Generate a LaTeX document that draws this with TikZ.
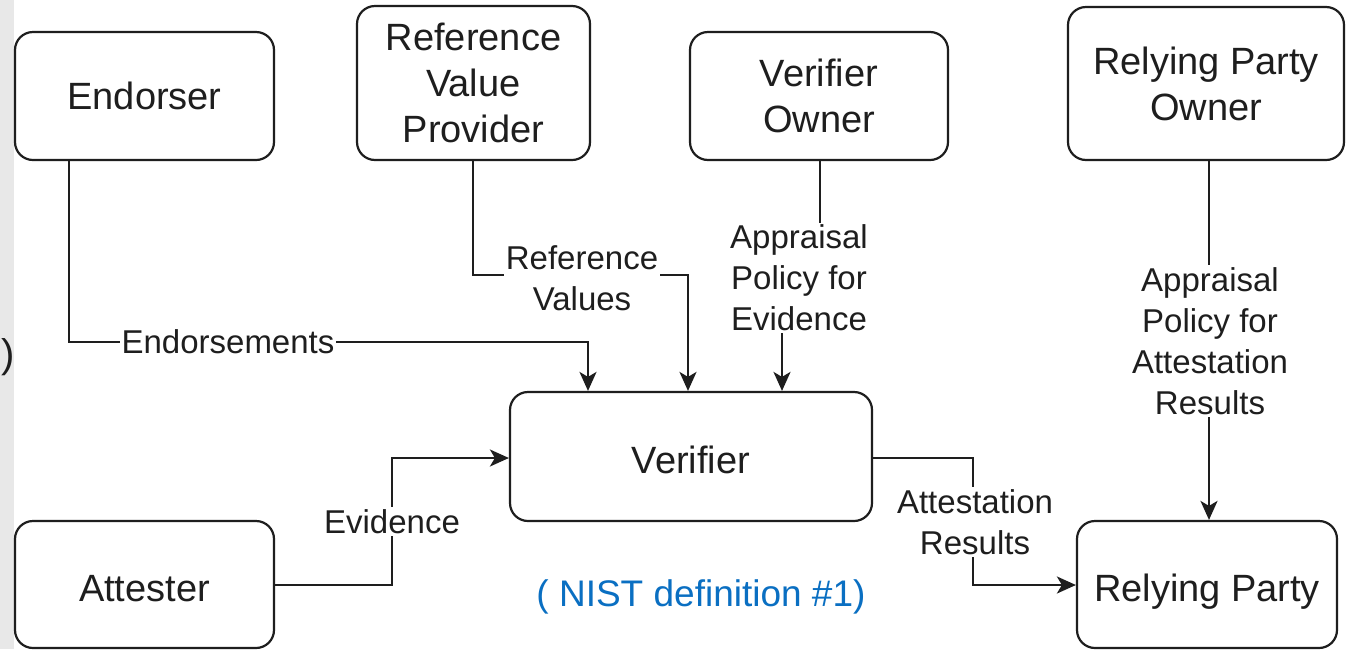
\documentclass[tikz,border=0pt]{standalone}
\usepackage{fontspec}
\setmainfont{Liberation Sans}
\usetikzlibrary{arrows.meta}
\definecolor{nistblue}{HTML}{0A6FC2}
\definecolor{ink}{HTML}{1E1E1E}
\tikzset{
  box/.style={draw=ink, line width=2.2pt, rounded corners=18pt, fill=white, align=center,
              font=\fontsize{38}{46}\selectfont, inner sep=0pt, text=ink},
  lowtext/.style={text height=34pt, text depth=0pt},
  lbl/.style={fill=white, align=center, inner sep=2pt, font=\fontsize{33}{41}\selectfont, text=ink},
  conn/.style={draw=ink, line width=2.2pt},
  arr/.style={conn, -{Stealth[length=19pt,width=17pt,inset=5pt]}},
}
\begin{document}
\begin{tikzpicture}[x=1pt,y=-1pt]
\useasboundingbox (0,0) rectangle (1346,649);
\fill[white] (0,0) rectangle (1346,649);
\fill[black!9] (0,0) rectangle (14,649);
\node[font=\fontsize{40}{46}\selectfont, inner sep=0pt, text=ink] (paren) at (8,357) {)};

% boxes
\node[box, minimum width=259pt, minimum height=128pt] (endorser) at (144.5,96) {Endorser};
\node[box, minimum width=233pt, minimum height=154pt] (rvp) at (473.5,83) {Reference\\Value\\Provider};
\node[box, minimum width=258pt, minimum height=128pt] (vo) at (819,96) {Verifier\\Owner};
\node[box, minimum width=276pt, minimum height=153pt] (rpo) at (1206,83.5) {Relying Party\\Owner};
\node[box, lowtext, minimum width=362pt, minimum height=129pt] (verifier) at (691,456.5) {Verifier};
\node[box, lowtext, minimum width=259pt, minimum height=127pt] (attester) at (144.5,584.5) {Attester};
\node[box, lowtext, minimum width=260pt, minimum height=127pt] (rp) at (1207,584.5) {Relying Party};

% bend points
\coordinate (b1) at (69,342);
\coordinate (b2) at (588,342);
\coordinate (b3) at (473,275);
\coordinate (b4) at (688,275);
\coordinate (b5) at (820,277);
\coordinate (b6) at (782,277);
\coordinate (b7) at (1209,300);
\coordinate (b8) at (392,585);
\coordinate (b9) at (392,458);
\coordinate (b10) at (973,458);
\coordinate (b11) at (973,585);

% connectors
\draw[arr] (endorser.south -| b1) -- (b1) -- (b2) -- (verifier.north -| b2);
\draw[arr] (rvp.south -| b3) -- (b3) -- (b4) -- (verifier.north -| b4);
\draw[arr] (vo.south -| b5) -- (b5) -- (b6) -- (verifier.north -| b6);
\draw[arr] (rpo.south -| b7) -- (rp.north -| b7);
\draw[arr] (attester.east |- b8) -- (b8) -- (b9) -- (verifier.west |- b9);
\draw[arr] (verifier.east |- b10) -- (b10) -- (b11) -- (rp.west |- b11);

% labels
\node[lbl] (lend) at (228,342) {Endorsements};
\node[lbl] (lrv) at (582,278) {Reference\\Values};
\node[lbl] (lape) at (799,278) {Appraisal\\Policy for\\Evidence};
\node[lbl] (lapr) at (1210,341) {Appraisal\\Policy for\\Attestation\\Results};
\node[lbl] (lev) at (392,521.5) {Evidence};
\node[lbl] (lar) at (975,522) {Attestation\\Results};

\node[text=nistblue, font=\fontsize{37}{44}\selectfont, inner sep=0pt] (nist) at (701,597) {( NIST definition \#1)};
\end{tikzpicture}
\end{document}
